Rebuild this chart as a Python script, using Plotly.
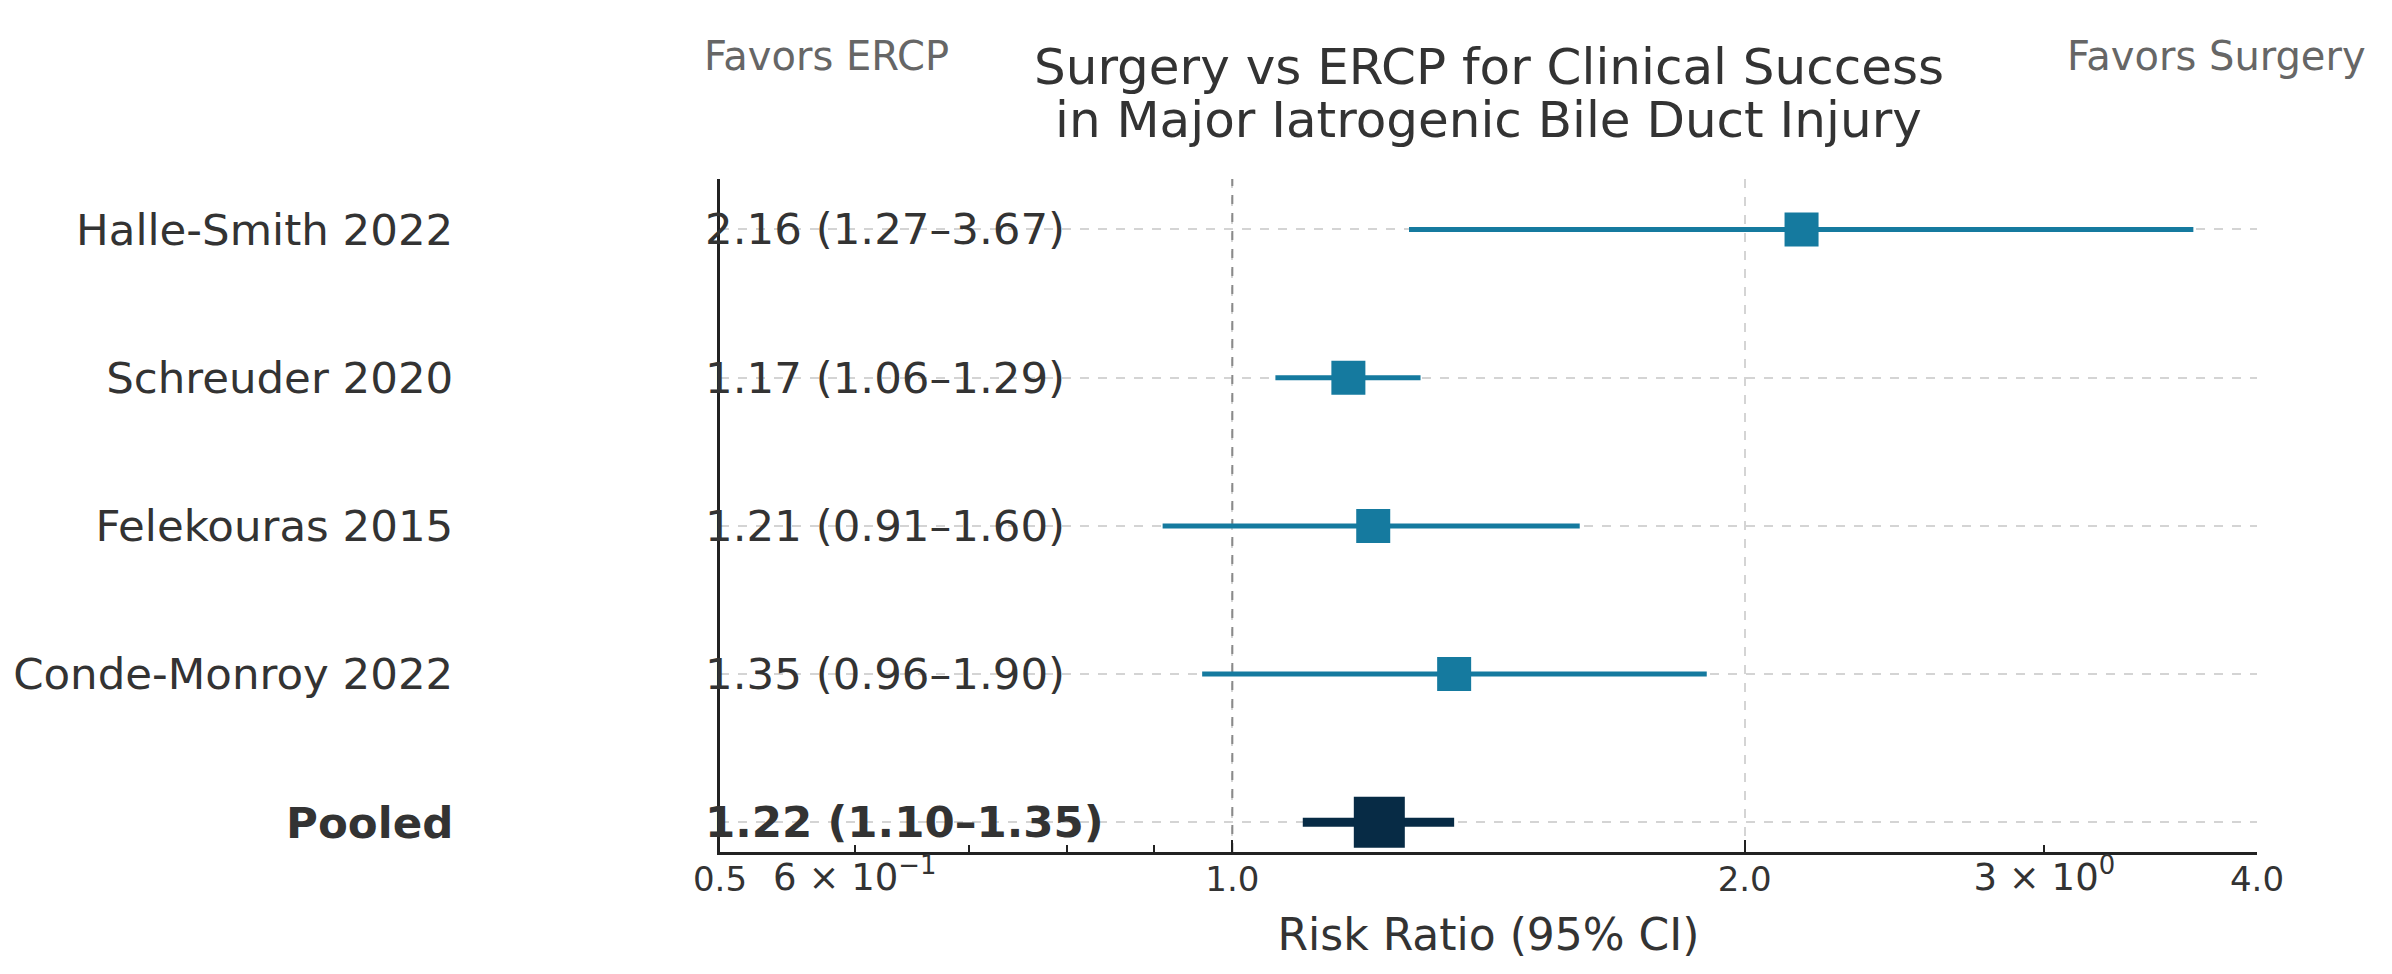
import numpy as np
import plotly.graph_objects as go

# ---- data ----
studies = ["Halle-Smith 2022", "Schreuder 2020", "Felekouras 2015", "Conde-Monroy 2022"]
rr = [2.16, 1.17, 1.21, 1.35]
ci_low = [1.27, 1.06, 0.91, 0.96]
ci_high = [3.67, 1.29, 1.60, 1.90]
row_pos = [4, 3, 2, 1]

pooled_label = "Pooled"
pooled_rr = [1.22]
pooled_low = [1.10]
pooled_high = [1.35]
pooled_pos = [0]

ref_value = 1.0
x_limits = [0.5, 4.0]
y_limits = [-0.2, 4.34]
major_ticks = [0.5, 1.0, 2.0, 4.0]
major_text = ["0.5", "1.0", "2.0", "4.0"]
minor_ticks = [0.6, 0.7, 0.8, 0.9, 3.0]
sci_ticks = [0.6, 3.0]
sci_text = ["6 × 10<sup>−1</sup>", "3 × 10<sup>0</sup>"]

title_lines = ["Surgery vs ERCP for Clinical Success", "in Major Iatrogenic Bile Duct Injury"]
left_note = "Favors ERCP"
right_note = "Favors Surgery"
x_title = "Risk Ratio (95% CI)"

# ---- styles ----
FONT = "DejaVu Sans"
STUDY_COLOR = "#157a9f"
POOLED_COLOR = "#072b45"
TEXT_COLOR = "#333333"
GRID_COLOR = "#d4d4d4"
AXIS_COLOR = "#222222"

rr_a = np.array(rr); lo_a = np.array(ci_low); hi_a = np.array(ci_high)
p_rr = np.array(pooled_rr); p_lo = np.array(pooled_low); p_hi = np.array(pooled_high)

def fmt(v, l, h):
    return f"{v:.2f} ({l:.2f}–{h:.2f})"

study_text = [fmt(v, l, h) for v, l, h in zip(rr, ci_low, ci_high)]
pooled_text = [f"<b>{fmt(v, l, h)}</b>" for v, l, h in zip(pooled_rr, pooled_low, pooled_high)]

fig = go.Figure()

# reference line
fig.add_trace(go.Scatter(
    x=[ref_value, ref_value], y=y_limits, mode="lines",
    line=dict(color="#8a8a8a", width=2, dash="dash"),
    hoverinfo="skip", showlegend=False))

# studies
fig.add_trace(go.Scatter(
    x=rr_a, y=row_pos, mode="markers",
    marker=dict(symbol="square", size=34, color=STUDY_COLOR),
    error_x=dict(type="data", symmetric=False, array=hi_a - rr_a, arrayminus=rr_a - lo_a,
                 width=0, thickness=5, color=STUDY_COLOR),
    showlegend=False))

# pooled
fig.add_trace(go.Scatter(
    x=p_rr, y=pooled_pos, mode="markers",
    marker=dict(symbol="square", size=51, color=POOLED_COLOR),
    error_x=dict(type="data", symmetric=False, array=p_hi - p_rr, arrayminus=p_rr - p_lo,
                 width=0, thickness=9, color=POOLED_COLOR),
    showlegend=False))

# invisible trace for scientific tick labels axis
fig.add_trace(go.Scatter(
    x=sci_ticks, y=[pooled_pos[0]] * len(sci_ticks), xaxis="x2", mode="markers",
    marker=dict(opacity=0), hoverinfo="skip", showlegend=False))

log_range = [np.log10(x_limits[0]), np.log10(x_limits[1])]

# value labels (annotations on log axis use log10 positions)
value_annotations = [
    dict(text=t, xref="x", yref="y", x=np.log10(x_limits[0]), y=p,
         xanchor="left", yanchor="middle", xshift=-17, showarrow=False,
         font=dict(family=FONT, size=43.5, color=TEXT_COLOR))
    for t, p in zip(study_text + pooled_text, row_pos + pooled_pos)
]

fig.update_layout(
    width=2392, height=974,
    margin=dict(l=712, r=143, t=171, b=130),
    paper_bgcolor="white", plot_bgcolor="white",
    font=dict(family=FONT, color=TEXT_COLOR),
    xaxis=dict(
        type="log", range=log_range, automargin=False,
        tickmode="array", tickvals=major_ticks, ticktext=major_text,
        ticks="inside", ticklen=12, tickwidth=2, ticklabelstandoff=-5,
        tickcolor=AXIS_COLOR,
        tickfont=dict(family=FONT, size=34, color=TEXT_COLOR),
        minor=dict(tickmode="array", tickvals=minor_ticks, ticks="inside", ticklen=7,
                   tickwidth=2, tickcolor=AXIS_COLOR, showgrid=False),
        showgrid=True, gridcolor=GRID_COLOR, griddash="dash", gridwidth=1.5,
        showline=True, linecolor=AXIS_COLOR, linewidth=3,
        zeroline=False,
        title=dict(text=x_title, font=dict(family=FONT, size=44, color=TEXT_COLOR), standoff=22),
    ),
    xaxis2=dict(
        type="log", range=log_range, overlaying="x", side="bottom", anchor="y",
        automargin=False,
        tickmode="array", tickvals=sci_ticks, ticktext=sci_text,
        ticks="inside", ticklen=12, tickwidth=2, ticklabelstandoff=0,
        tickcolor="rgba(0,0,0,0)",
        showgrid=False, showline=False, zeroline=False,
        tickfont=dict(family=FONT, size=37, color=TEXT_COLOR),
    ),
    yaxis=dict(
        range=y_limits, automargin=False,
        tickmode="array", tickvals=row_pos + pooled_pos,
        ticktext=studies + [f"<b>{pooled_label}</b>"],
        tickfont=dict(family=FONT, size=43.5, color=TEXT_COLOR),
        ticks="", ticklabelstandoff=255,
        showgrid=True, gridcolor=GRID_COLOR, griddash="dash", gridwidth=1.5,
        showline=True, linecolor=AXIS_COLOR, linewidth=3,
        zeroline=False,
    ),
    annotations=value_annotations + [
        dict(text=title_lines[0], xref="paper", yref="paper", x=0.5, y=1.166,
             xanchor="center", yanchor="middle", showarrow=False,
             font=dict(family=FONT, size=50, color=TEXT_COLOR)),
        dict(text=title_lines[1], xref="paper", yref="paper", x=0.5, y=1.088,
             xanchor="center", yanchor="middle", showarrow=False,
             font=dict(family=FONT, size=50, color=TEXT_COLOR)),
        dict(text=left_note, xref="paper", yref="paper", x=-0.0118, y=1.183,
             xanchor="left", yanchor="middle", showarrow=False,
             font=dict(family=FONT, size=40, color="#666666")),
        dict(text=right_note, xref="paper", yref="paper", x=1.072, y=1.183,
             xanchor="right", yanchor="middle", showarrow=False,
             font=dict(family=FONT, size=40, color="#666666")),
    ],
)

fig.write_html("out.html")
